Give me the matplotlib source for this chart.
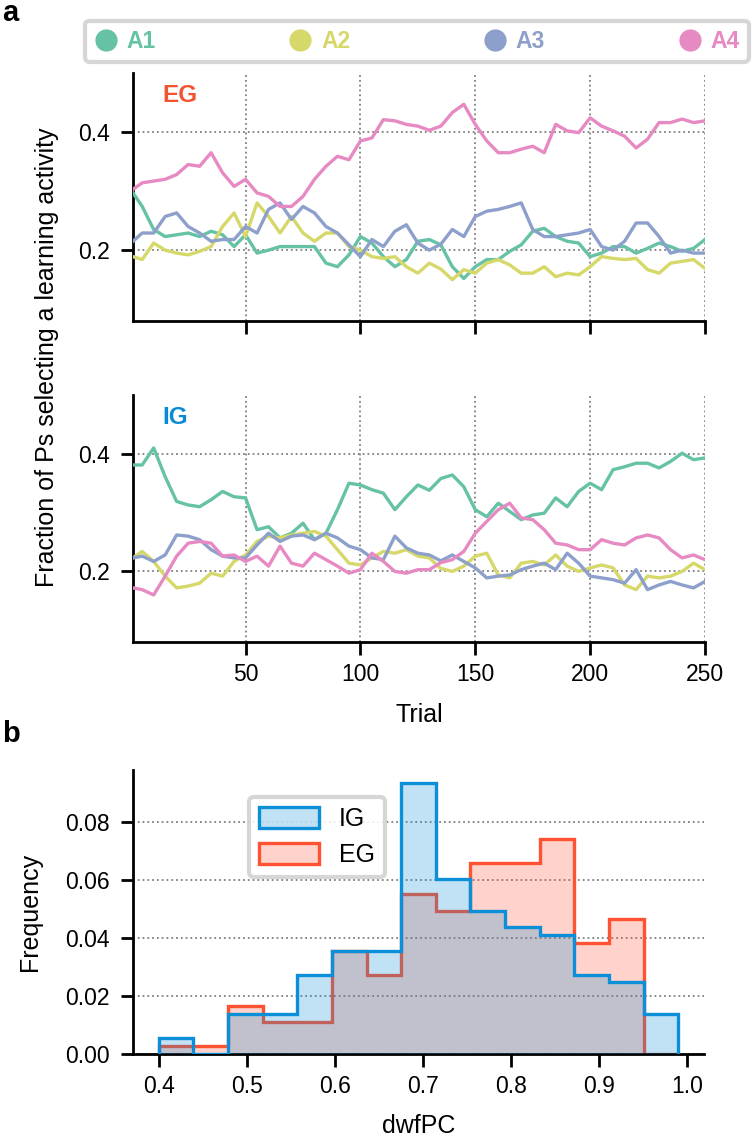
import matplotlib
matplotlib.use('Agg')
import matplotlib.pyplot as plt
from matplotlib.lines import Line2D
from matplotlib.patches import Patch
from matplotlib.ticker import FormatStrFormatter

plt.rcParams['font.family'] = ['Liberation Sans', 'DejaVu Sans']
plt.rcParams['font.size'] = 16.5

############################################################
# Data
############################################################

trials = [1] + list(range(5, 251, 5))

activities = ['A1', 'A2', 'A3', 'A4']
act_colors = ['#66C2A5', '#D6D86A', '#8DA0CB', '#E78AC3']

eg_a1 = [.297, .274, .235, .223, .226, .229, .223, .232, .226, .206,
         .226, .195, .200, .206, .206, .206, .206, .178, .172, .192,
         .223, .212, .189, .172, .184, .215, .218, .209, .172, .152,
         .172, .184, .184, .198, .209, .232, .237, .223, .215, .212,
         .189, .195, .206, .206, .195, .203, .212, .206, .198, .203, .218]
eg_a2 = [.189, .184, .212, .200, .195, .192, .198, .206, .240, .263,
         .223, .280, .257, .229, .257, .229, .215, .229, .229, .206,
         .200, .189, .186, .189, .172, .161, .178, .168, .150, .167,
         .161, .178, .184, .175, .161, .161, .172, .155, .161, .158,
         .172, .189, .186, .184, .186, .167, .161, .178, .181, .184, .169]
eg_a3 = [.215, .229, .229, .257, .263, .240, .229, .215, .218, .218,
         .240, .229, .269, .280, .252, .274, .263, .240, .229, .209,
         .189, .218, .206, .232, .243, .212, .200, .210, .235, .223,
         .257, .266, .269, .274, .280, .235, .223, .223, .226, .229,
         .235, .206, .200, .215, .246, .246, .223, .195, .200, .195, .195]
eg_a4 = [.303, .314, .317, .320, .328, .345, .342, .365, .331, .308,
         .320, .297, .291, .274, .274, .291, .320, .342, .359, .353,
         .385, .390, .421, .419, .413, .410, .403, .410, .433, .447,
         .413, .385, .365, .365, .371, .376, .365, .413, .402, .399,
         .424, .410, .402, .393, .373, .388, .416, .416, .422, .416, .419]

ig_a1 = [.381, .381, .410, .361, .319, .313, .310, .322, .336, .327,
         .325, .271, .276, .257, .265, .282, .254, .265, .305, .350,
         .347, .339, .333, .305, .327, .347, .338, .358, .364, .344,
         .305, .293, .316, .302, .288, .296, .299, .325, .310, .336,
         .350, .339, .373, .378, .384, .384, .376, .387, .401, .390, .393]
ig_a2 = [.223, .234, .217, .192, .172, .175, .180, .197, .192, .217,
         .228, .251, .260, .257, .262, .265, .268, .260, .237, .214,
         .211, .223, .234, .231, .237, .226, .223, .205, .200, .209,
         .226, .231, .194, .189, .214, .217, .211, .228, .209, .200,
         .206, .211, .206, .177, .169, .192, .189, .192, .200, .214, .203]
ig_a3 = [.223, .226, .217, .228, .262, .260, .254, .237, .226, .223,
         .223, .245, .265, .251, .260, .262, .254, .265, .257, .243,
         .237, .223, .220, .260, .240, .231, .228, .218, .228, .217,
         .206, .189, .192, .194, .203, .209, .214, .203, .231, .214,
         .192, .189, .186, .180, .203, .169, .177, .183, .177, .172, .183]
ig_a4 = [.172, .169, .160, .192, .226, .248, .251, .248, .226, .228,
         .217, .226, .209, .243, .214, .209, .231, .220, .209, .197,
         .203, .231, .217, .200, .197, .203, .203, .215, .220, .234,
         .265, .285, .305, .316, .291, .288, .271, .248, .245, .237,
         .237, .254, .248, .245, .257, .262, .257, .237, .223, .228, .220]

# histogram of dwfPC (15 bins from 0.40 to 0.99)
bin_edges = [0.400, 0.439, 0.479, 0.518, 0.557, 0.597, 0.636, 0.675,
             0.715, 0.754, 0.793, 0.833, 0.872, 0.911, 0.951, 0.990]
ig_freq = [.0055, .0, .0137, .0137, .0274, .0357, .0357, .0934,
           .0605, .0495, .0439, .0411, .0274, .0247, .0137]
eg_freq = [.0029, .0029, .0167, .0109, .0109, .0357, .0274, .0551,
           .0495, .0659, .0659, .0741, .0384, .0467, .0]

EG_COLOR = '#FF5232'
IG_COLOR = '#0A8FD8'

############################################################
# Figure and axes (pixel boxes)
############################################################

W, H = 752, 1136
fig = plt.figure(figsize=(W / 100, H / 100), dpi=100)


def box(left, top, right, bottom):
    return [left / W, 1 - bottom / H, (right - left) / W, (bottom - top) / H]


ax_eg = fig.add_axes(box(133, 73, 705, 321))
ax_ig = fig.add_axes(box(133, 395, 705, 642))
ax_h = fig.add_axes(box(133, 770, 704, 1054))


def style(ax):
    for s in ['top', 'right']:
        ax.spines[s].set_visible(False)
    for s in ['left', 'bottom']:
        ax.spines[s].set_linewidth(2)
    ax.tick_params(length=9, width=2, labelsize=16.5)
    ax.tick_params(axis='x', pad=6)
    ax.tick_params(axis='y', pad=8)


############################################################
# Panel a: fractions over trials
############################################################

panels = [
    (ax_eg, [eg_a1, eg_a2, eg_a3, eg_a4], 'EG', '#F35430'),
    (ax_ig, [ig_a1, ig_a2, ig_a3, ig_a4], 'IG', '#0A8AD6'),
]

for ax, series, name, tcolor in panels:
    for vals, c in zip(series, act_colors):
        ax.plot(trials, vals, color=c, lw=2.4, zorder=3)
    ax.set_xlim(1, 250)
    ax.set_ylim(0.08, 0.5)
    ax.set_xticks([50, 100, 150, 200, 250])
    ax.set_yticks([0.2, 0.4])
    ax.grid(True, ls=':', color='#7f7f7f', lw=1.3, zorder=0)
    style(ax)
    ax.text(0.051, 0.91, name, transform=ax.transAxes, color=tcolor,
            fontweight='bold', fontsize=17.5, ha='left', va='center')

ax_eg.tick_params(labelbottom=False)
ax_ig.set_xlabel('Trial', fontsize=18)
ax_ig.xaxis.set_label_coords(0.5, -0.245)

fig.text(47 / W, 1 - 357 / H, 'Fraction of Ps selecting a learning activity',
         rotation=90, ha='center', va='center', fontsize=18)

handles = [Line2D([], [], marker='o', ls='', color=c, markersize=15)
           for c in act_colors]
leg = fig.legend(handles, activities, loc='lower left',
                 bbox_to_anchor=(85 / W, 1 - 62 / H, 664 / W, 37 / H),
                 mode='expand', ncol=4, borderaxespad=0, handlelength=1.0,
                 handletextpad=0.4, fancybox=True, framealpha=1,
                 edgecolor='#d6d6d6', prop={'weight': 'bold', 'size': 16.5})
leg.get_frame().set_linewidth(3)
for txt, c in zip(leg.get_texts(), act_colors):
    txt.set_color(c)

############################################################
# Panel b: histogram
############################################################

ax_h.stairs(eg_freq, bin_edges, fill=True, color=EG_COLOR, alpha=0.25,
            lw=0, zorder=2)
ax_h.stairs(eg_freq, bin_edges, baseline=0, color=EG_COLOR, lw=2.4,
            zorder=2)
ax_h.stairs(ig_freq, bin_edges, fill=True, color=IG_COLOR, alpha=0.25,
            lw=0, zorder=3)
ax_h.stairs(ig_freq, bin_edges, baseline=0, color=IG_COLOR, lw=2.4,
            zorder=3)

ax_h.set_xlim(0.3705, 1.0195)
ax_h.set_ylim(0, 0.098)
ax_h.set_xticks([0.4, 0.5, 0.6, 0.7, 0.8, 0.9, 1.0])
ax_h.set_yticks([0.0, 0.02, 0.04, 0.06, 0.08])
ax_h.xaxis.set_major_formatter(FormatStrFormatter('%.1f'))
ax_h.yaxis.set_major_formatter(FormatStrFormatter('%.2f'))
ax_h.grid(True, axis='y', ls=':', color='#7f7f7f', lw=1.3, zorder=4)
style(ax_h)
ax_h.set_xlabel('dwfPC', fontsize=18)
ax_h.xaxis.set_label_coords(0.5, -0.21)
ax_h.set_ylabel('Frequency', fontsize=18)
ax_h.yaxis.set_label_coords(-0.159, 0.5)

hist_handles = [
    Patch(facecolor=(0.04, 0.56, 0.85, 0.25), edgecolor=IG_COLOR, lw=2.4),
    Patch(facecolor=(1.0, 0.32, 0.2, 0.25), edgecolor=EG_COLOR, lw=2.4),
]
hleg = ax_h.legend(hist_handles, ['IG', 'EG'], loc='upper left',
                   bbox_to_anchor=(0.203, 0.905), borderaxespad=0,
                   handlelength=2.4, handleheight=0.9, fontsize=18,
                   fancybox=True, framealpha=0.85, edgecolor='#cfcfcf')
hleg.get_frame().set_linewidth(3)
hleg.set_zorder(5)

############################################################
# Panel letters
############################################################

fig.text(2 / W, 1 - 21 / H, 'a', fontsize=21, fontweight='bold',
         va='baseline')
fig.text(2 / W, 1 - 742 / H, 'b', fontsize=21, fontweight='bold',
         va='baseline')

fig.savefig('out.png', dpi=100)
